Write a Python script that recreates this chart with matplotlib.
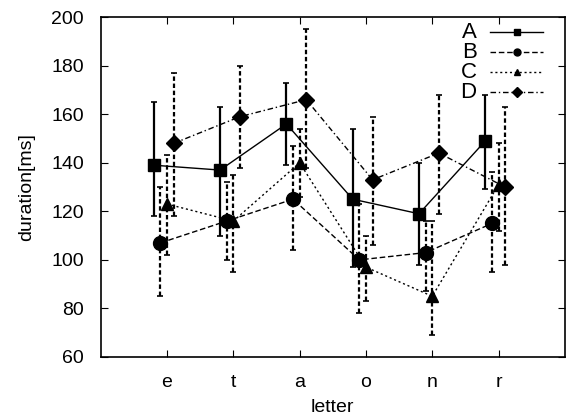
import numpy as np
import matplotlib
matplotlib.use("Agg")
import matplotlib.pyplot as plt

plt.rcParams["font.family"] = ["Liberation Sans", "DejaVu Sans"]

letters = ["e", "t", "a", "o", "n", "r"]
series_names = ["A", "B", "C", "D"]

# mean durations [ms] per letter
a_mean = [139, 137, 156, 125, 119, 149]
b_mean = [107, 116, 125, 100, 103, 115]
c_mean = [123, 116, 140, 97, 85, 131]
d_mean = [148, 159, 166, 133, 144, 130]

# error bar ends (low, high)
a_low = [118, 110, 139, 97, 98, 129]
a_high = [165, 163, 173, 154, 140, 168]
b_low = [85, 100, 104, 78, 87, 95]
b_high = [130, 132, 147, 123, 116, 136]
c_low = [102, 95, 126, 83, 69, 112]
c_high = [143, 135, 154, 110, 116, 148]
d_low = [118, 138, 138, 106, 119, 98]
d_high = [177, 180, 195, 159, 168, 163]

means = [a_mean, b_mean, c_mean, d_mean]
lows = [a_low, b_low, c_low, d_low]
highs = [a_high, b_high, c_high, d_high]

offsets = [-0.2, -0.1, 0.0, 0.1]
markers = ["s", "o", "^", "D"]
msizes = [9, 10, 9, 8]
linestyles = ["-", (0, (4, 2)), (0, (1.5, 2)), (0, (4, 2, 1, 2))]
err_styles = ["-", (0, (2, 1.2)), (0, (2, 1.2)), (0, (2, 1.2))]

fig = plt.figure(figsize=(5.66, 4.18), dpi=100)
ax = fig.add_axes([0.178, 0.146, 0.82, 0.813])

x = np.arange(1, len(letters) + 1)
for i, name in enumerate(series_names):
    xs = x + offsets[i]
    m = np.array(means[i])
    lo = m - np.array(lows[i])
    hi = np.array(highs[i]) - m
    ax.plot(xs, m, color="black", linestyle=linestyles[i], linewidth=1.0,
            marker=markers[i], markersize=msizes[i], zorder=3)
    eb = ax.errorbar(xs, m, yerr=[lo, hi], fmt="none", ecolor="black",
                     elinewidth=1.6, capsize=2.5, capthick=1.2, zorder=2)
    eb[2][0].set_linestyle(err_styles[i])

    # legend entry drawn by hand in axes coordinates
    ly = 0.956 - i * 0.059
    ax.text(0.81, ly, name, transform=ax.transAxes, fontsize=16,
            ha="right", va="center")
    ax.plot([0.838, 0.952], [ly, ly], transform=ax.transAxes, color="black",
            linestyle=linestyles[i], linewidth=1.0)
    ax.plot([0.897], [ly], transform=ax.transAxes, color="black",
            marker=markers[i], markersize=5)

ax.set_xlim(0, 7)
ax.set_ylim(60, 200)
ax.set_xticks(x)
ax.set_xticklabels(letters)
ax.set_yticks(np.arange(60, 201, 20))
ax.tick_params(direction="in", top=True, right=True, labelsize=14, length=5)
ax.tick_params(axis="x", pad=12)
ax.tick_params(axis="y", pad=12)
ax.set_xlabel("letter", fontsize=14, labelpad=6)
ax.set_ylabel("duration[ms]", fontsize=14, labelpad=12)
for s in ax.spines.values():
    s.set_linewidth(1.2)

fig.savefig("out.png", dpi=100)
